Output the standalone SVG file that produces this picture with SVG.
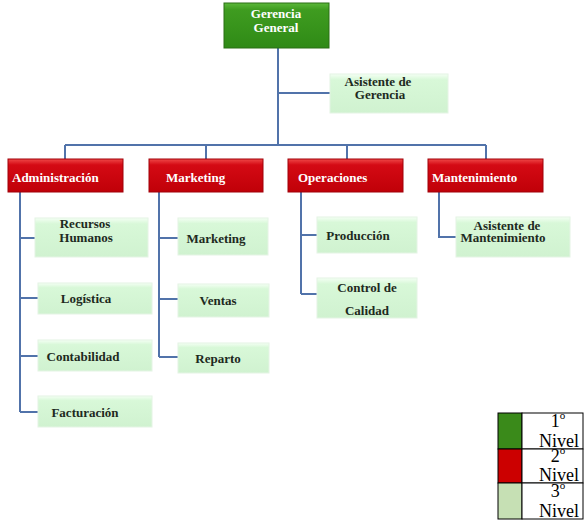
<svg xmlns="http://www.w3.org/2000/svg" width="584" height="521" viewBox="0 0 584 521">
<defs>
<linearGradient id="gGreen" x1="0" y1="0" x2="0" y2="1">
<stop offset="0" stop-color="#5cb83a"/><stop offset="0.15" stop-color="#3f9c20"/><stop offset="1" stop-color="#2f8a16"/>
</linearGradient>
<linearGradient id="gRed" x1="0" y1="0" x2="0" y2="1">
<stop offset="0" stop-color="#f04848"/><stop offset="0.18" stop-color="#d40a14"/><stop offset="1" stop-color="#c00008"/>
</linearGradient>
<linearGradient id="gLight" x1="0" y1="0" x2="0" y2="1">
<stop offset="0" stop-color="#f4fff4"/><stop offset="0.15" stop-color="#d8f8d8"/><stop offset="1" stop-color="#d0f2d0"/>
</linearGradient>
<style>
.l1{fill:url(#gGreen);stroke:#2a6e14;stroke-width:1}
.l2{fill:url(#gRed);stroke:#a00008;stroke-width:1}
.l3{fill:url(#gLight);stroke:#e4f4e4;stroke-width:1}
.tw{font-family:"Liberation Serif",serif;font-size:13px;font-weight:bold;fill:#ffffff}
.td{font-family:"Liberation Serif",serif;font-size:13px;font-weight:bold;fill:#1e2a1e;text-anchor:middle}
.conn{fill:none;stroke:#5173aa;stroke-width:2}
.lg{font-family:"Liberation Serif",serif;font-size:18px;fill:#000;text-anchor:middle}
</style>
</defs>
<rect width="584" height="521" fill="#ffffff"/>
<g id="connectors">
<path class="conn" d="M278,48 V145 M278,93 H330 M65,145 H486 M65,145 V159 M206,145 V159 M347,145 V159 M486,145 V159"/>
<path class="conn" d="M20,192 V412 M20,238 H35 M20,298 H38 M20,356 H38 M20,412 H38"/>
<path class="conn" d="M159,192 V357 M159,238 H178 M159,299 H178 M159,357 H178"/>
<path class="conn" d="M301,192 V294 M301,235 H317 M301,294 H317"/>
<path class="conn" d="M439,192 V237 H456"/>
</g>
<g id="gerencia-general">
<rect class="l1" x="224" y="3" width="105" height="45"/>
<text class="tw" x="276" y="18" text-anchor="middle">Gerencia</text>
<text class="tw" x="276" y="32" text-anchor="middle">General</text>
</g>
<g id="asistente-gerencia">
<rect class="l3" x="330" y="74" width="118" height="39"/>
<text class="td" x="378" y="86">Asistente de</text>
<text class="td" x="380" y="99">Gerencia</text>
</g>
<g id="administracion">
<rect class="l2" x="8" y="159" width="115" height="33"/>
<text class="tw" x="12" y="182">Administración</text>
</g>
<g id="marketing">
<rect class="l2" x="149" y="159" width="114" height="33"/>
<text class="tw" x="166" y="182">Marketing</text>
</g>
<g id="operaciones">
<rect class="l2" x="288" y="159" width="115" height="33"/>
<text class="tw" x="298" y="182">Operaciones</text>
</g>
<g id="mantenimiento">
<rect class="l2" x="428" y="159" width="115" height="33"/>
<text class="tw" x="432" y="182">Mantenimiento</text>
</g>
<g id="recursos-humanos">
<rect class="l3" x="35" y="218" width="113" height="39"/>
<text class="td" x="85" y="228">Recursos</text>
<text class="td" x="86" y="242">Humanos</text>
</g>
<g id="logistica">
<rect class="l3" x="38" y="283" width="114" height="31"/>
<text class="td" x="86" y="303">Logística</text>
</g>
<g id="contabilidad">
<rect class="l3" x="38" y="340" width="114" height="31"/>
<text class="td" x="83" y="361">Contabilidad</text>
</g>
<g id="facturacion">
<rect class="l3" x="38" y="396" width="114" height="31"/>
<text class="td" x="85" y="417">Facturación</text>
</g>
<g id="marketing-3">
<rect class="l3" x="178" y="218" width="90" height="37"/>
<text class="td" x="216" y="243">Marketing</text>
</g>
<g id="ventas">
<rect class="l3" x="178" y="284" width="91" height="33"/>
<text class="td" x="218" y="305">Ventas</text>
</g>
<g id="reparto">
<rect class="l3" x="178" y="343" width="91" height="30"/>
<text class="td" x="218" y="363">Reparto</text>
</g>
<g id="produccion">
<rect class="l3" x="317" y="217" width="100" height="36"/>
<text class="td" x="358" y="240">Producción</text>
</g>
<g id="control-calidad">
<rect class="l3" x="317" y="278" width="100" height="40"/>
<text class="td" x="367" y="292">Control de</text>
<text class="td" x="367" y="315">Calidad</text>
</g>
<g id="asistente-mantenimiento">
<rect class="l3" x="456" y="217" width="114" height="40"/>
<text class="td" x="507" y="230">Asistente de</text>
<text class="td" x="503" y="242">Mantenimiento</text>
</g>
<g id="legend">
<rect x="498" y="413" width="24" height="36" fill="#3a8a1a" stroke="#000" stroke-width="1"/>
<rect x="498" y="449" width="24" height="34" fill="#cc0000" stroke="#000" stroke-width="1"/>
<rect x="498" y="483" width="24" height="36" fill="#c6e0b4" stroke="#000" stroke-width="1"/>
<rect x="522" y="413" width="61" height="36" fill="#fff" stroke="#000" stroke-width="1"/>
<rect x="522" y="449" width="61" height="34" fill="#fff" stroke="#000" stroke-width="1"/>
<rect x="522" y="483" width="61" height="36" fill="#fff" stroke="#000" stroke-width="1"/>
<text class="lg" x="558" y="427">1<tspan font-size="11" dy="-8">o</tspan></text>
<text class="lg" x="559" y="447">Nivel</text>
<text class="lg" x="558" y="462">2<tspan font-size="11" dy="-8">o</tspan></text>
<text class="lg" x="559" y="481">Nivel</text>
<text class="lg" x="558" y="497">3<tspan font-size="11" dy="-8">o</tspan></text>
<text class="lg" x="559" y="517">Nivel</text>
</g>
</svg>
